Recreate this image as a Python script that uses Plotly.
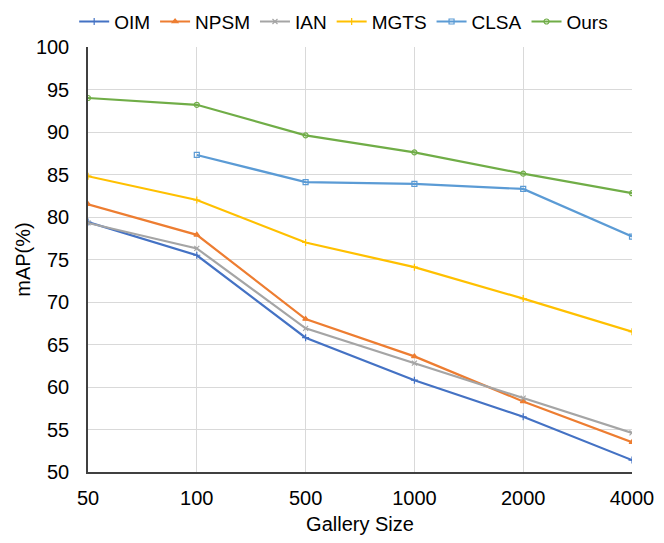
import plotly.graph_objects as go

gallery_sizes = ["50", "100", "500", "1000", "2000", "4000"]

oim = [79.4, 75.5, 65.8, 60.8, 56.5, 51.4]
npsm = [81.5, 77.9, 68.0, 63.6, 58.3, 53.5]
ian = [79.3, 76.3, 66.9, 62.8, 58.7, 54.6]
mgts = [84.8, 82.0, 77.0, 74.1, 70.4, 66.5]
clsa = [None, 87.3, 84.1, 83.9, 83.3, 77.7]
ours = [94.0, 93.2, 89.6, 87.6, 85.1, 82.8]

series = [
    ("OIM", oim, "#4472C4", "cross-thin-open"),
    ("NPSM", npsm, "#ED7D31", "triangle-up"),
    ("IAN", ian, "#A5A5A5", "x-thin-open"),
    ("MGTS", mgts, "#FFC000", "cross-thin-open"),
    ("CLSA", clsa, "#5B9BD5", "square-open"),
    ("Ours", ours, "#70AD47", "circle-open"),
]

fig = go.Figure()
for name, vals, color, sym in series:
    fig.add_trace(go.Scatter(
        x=gallery_sizes, y=vals, name=name, mode="lines+markers",
        line=dict(color=color, width=2.2),
        marker=dict(symbol=sym, size=5, color=color, line=dict(color=color, width=1.2)),
        connectgaps=False,
    ))

# page body has an 8px margin, so the figure is shifted and shrunk to fit
fig.update_layout(
    width=648, height=527,
    margin=dict(l=80, r=24, t=39, b=63, autoexpand=False),
    paper_bgcolor="white", plot_bgcolor="white",
    font=dict(family="Liberation Sans, Arial, sans-serif", size=20, color="black"),
    legend=dict(orientation="h", x=0.47, xanchor="center", y=1.015, yanchor="bottom",
                font=dict(size=19), itemwidth=30, tracegroupgap=0),
    showlegend=True,
)
fig.update_xaxes(
    type="category", range=[0, 5], showgrid=True, gridcolor="#D9D9D9", gridwidth=1,
    showline=True, linecolor="#404040", linewidth=1.5, ticks="",
    ticklabelstandoff=7,
    title=dict(text="Gallery Size", font=dict(size=20), standoff=12),
    tickfont=dict(size=20),
)
fig.update_yaxes(
    range=[50, 100], dtick=5, showgrid=True, gridcolor="#D9D9D9", gridwidth=1,
    showline=True, linecolor="#404040", linewidth=1.5, ticks="", zeroline=False,
    ticklabelstandoff=13,
    title=dict(text="mAP(%)", font=dict(size=20), standoff=0),
    tickfont=dict(size=20),
)

fig.write_html("out.html")
